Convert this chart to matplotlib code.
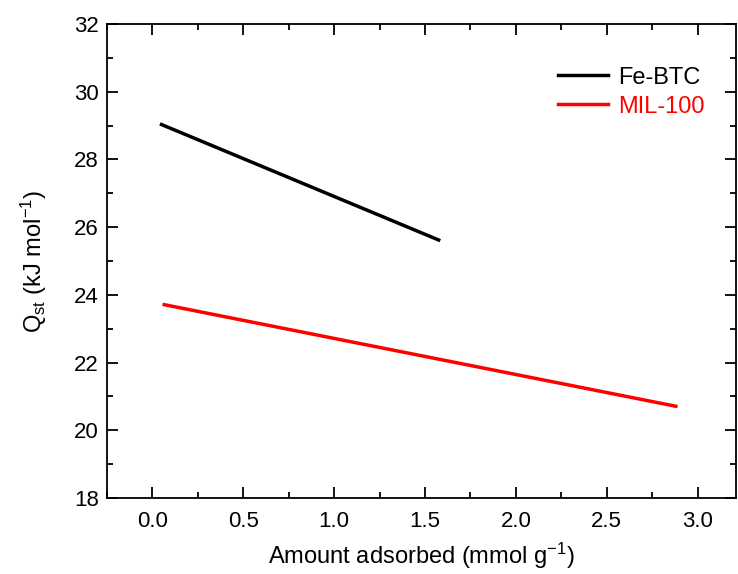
import matplotlib.pyplot as plt
from matplotlib.ticker import MultipleLocator

plt.rcParams['font.family'] = ['Liberation Sans', 'DejaVu Sans']
plt.rcParams['axes.unicode_minus'] = False
plt.rcParams['mathtext.fontset'] = 'custom'
plt.rcParams['mathtext.rm'] = 'Liberation Sans'
plt.rcParams['mathtext.it'] = 'Liberation Sans'

# two-point linear Qst fits
febtc_x = [0.05, 1.575]
febtc_y = [29.03, 25.62]
mil_x = [0.065, 2.88]
mil_y = [23.71, 20.71]

fig = plt.figure(figsize=(7.38, 5.74), dpi=100)
ax = fig.add_axes([0.145, 0.1324, 0.852, 0.8258])

ax.plot(febtc_x, febtc_y, color='black', linewidth=2.5, label='Fe-BTC')
ax.plot(mil_x, mil_y, color='red', linewidth=2.5, label='MIL-100')

ax.set_xlim(-0.25, 3.21)
ax.set_ylim(18, 32)
ax.xaxis.set_major_locator(MultipleLocator(0.5))
ax.xaxis.set_minor_locator(MultipleLocator(0.25))
ax.yaxis.set_major_locator(MultipleLocator(2))
ax.yaxis.set_minor_locator(MultipleLocator(1))
ax.xaxis.set_major_formatter(plt.FormatStrFormatter('%.1f'))

ax.tick_params(which='both', direction='in', top=True, right=True, width=1.3, labelsize=16)
ax.tick_params(which='major', length=8)
ax.tick_params(which='minor', length=4)
ax.tick_params(axis='x', pad=9)
ax.tick_params(axis='y', pad=6)
for s in ax.spines.values():
    s.set_linewidth(1.3)

ax.set_xlabel('Amount adsorbed (mmol g$^{\\mathregular{-1}}$)', fontsize=17, labelpad=7)
ax.set_ylabel('Q$_{\\mathregular{st}}$ (kJ mol$^{\\mathregular{-1}}$)', fontsize=17, labelpad=18)

leg = ax.legend(loc='upper right', frameon=False, fontsize=17, handlelength=2.1,
                handletextpad=0.45, labelspacing=0.3, bbox_to_anchor=(0.985, 0.955))
for t, c in zip(leg.get_texts(), ['black', 'red']):
    t.set_color(c)

fig.savefig('out.png', dpi=100)
